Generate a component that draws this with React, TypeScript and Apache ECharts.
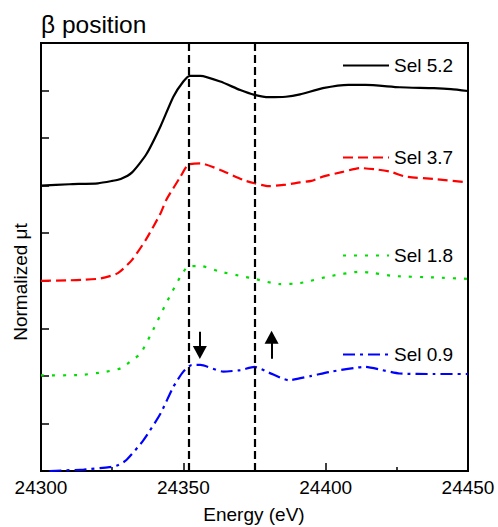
import React, { useEffect, useRef } from "react";
import * as echarts from "echarts";

const FONT = '"Liberation Sans", Arial, sans-serif';

const seriesNames = ["Sel 5.2", "Sel 3.7", "Sel 1.8", "Sel 0.9"];
const seriesColors = ["#000000", "#ff0000", "#00dd00", "#0000ff"];

const energy52 = [24300, 24310, 24320, 24325, 24328, 24332, 24337, 24342, 24346.5, 24350, 24352.3, 24356, 24363, 24370, 24375, 24380, 24386, 24391, 24399, 24408, 24414, 24426, 24438, 24444, 24450];
const value52 = [6.0, 6.03, 6.05, 6.1, 6.14, 6.28, 6.66, 7.25, 7.87, 8.19, 8.31, 8.31, 8.19, 8.01, 7.91, 7.86, 7.87, 7.92, 8.05, 8.12, 8.12, 8.07, 8.05, 8.03, 7.99];

const energy37 = [24300, 24310, 24315, 24321, 24327, 24332, 24337, 24342, 24344, 24349, 24351.7, 24356, 24363, 24371, 24375, 24380, 24386, 24391, 24395, 24399, 24406, 24412, 24418, 24423, 24428, 24438, 24450];
const value37 = [4.0, 4.01, 4.02, 4.05, 4.16, 4.44, 4.88, 5.42, 5.7, 6.19, 6.44, 6.47, 6.33, 6.12, 6.05, 5.99, 6.02, 6.07, 6.1, 6.19, 6.29, 6.37, 6.34, 6.29, 6.19, 6.14, 6.07];

const energy18 = [24300, 24314, 24322, 24328, 24332, 24335, 24339.4, 24344, 24349, 24351.7, 24356, 24363, 24371, 24375, 24384, 24391, 24401, 24412, 24417, 24424, 24438, 24450];
const value18 = [2.01, 2.02, 2.08, 2.16, 2.33, 2.47, 2.97, 3.53, 4.09, 4.3, 4.31, 4.19, 4.09, 4.04, 3.93, 3.95, 4.09, 4.19, 4.16, 4.1, 4.07, 4.04];

const energy09 = [24303, 24307, 24315, 24324, 24327, 24330, 24336, 24342, 24346.5, 24350, 24353, 24356, 24364, 24370, 24375, 24380, 24387, 24395, 24402, 24414, 24420, 24426, 24438, 24450];
const value09 = [0.0, 0.01, 0.03, 0.08, 0.12, 0.23, 0.65, 1.21, 1.77, 2.09, 2.23, 2.23, 2.09, 2.12, 2.19, 2.07, 1.91, 2.0, 2.09, 2.19, 2.12, 2.05, 2.04, 2.04];

const xTicks = { min: 24300, max: 24450, interval: 50 };
const yTicks = { min: 0, max: 9, interval: 1 };

const refLines = [24352, 24375];
// arrows: [energy, from, to]
const arrows = [
  [24355.8, 2.93, 2.49],
  [24381, 2.36, 2.81],
];

const legendY = [63, 155, 253, 352];

const energies = [energy52, energy37, energy18, energy09];
const values = [value52, value37, value18, value09];
const dashes: any[] = ["solid", [10, 5], [3, 8], [12, 5, 3, 5]];

export default function App() {
  const ref = useRef<HTMLDivElement>(null);
  useEffect(() => {
    document.body.style.margin = "0";
    const chart = echarts.init(ref.current!, null, { renderer: "svg" });
    const series: any[] = seriesNames.map((name, i) => ({
      name,
      type: "line",
      symbol: "none",
      smooth: 0.2,
      data: energies[i].map((e, j) => [e, values[i][j]]),
      lineStyle: { color: seriesColors[i], width: 2.2, type: dashes[i] },
      itemStyle: { color: seriesColors[i] },
      z: 3,
    }));
    series.push({
      name: "refs",
      type: "line",
      data: [],
      silent: true,
      markLine: {
        silent: true,
        symbol: "none",
        label: { show: false },
        lineStyle: { color: "#000", width: 2.2, type: [8, 4] },
        data: refLines.map((x) => ({ xAxis: x })),
      },
    });
    series.push({
      name: "arrows",
      type: "line",
      data: [],
      silent: true,
      markLine: {
        silent: true,
        symbol: ["none", "triangle"],
        symbolSize: [14, 13],
        label: { show: false },
        lineStyle: { color: "#000", width: 2, type: "solid" },
        itemStyle: { color: "#000" },
        data: arrows.map((a) => [
          { coord: [a[0], a[1]] },
          { coord: [a[0], a[2]] },
        ]),
      },
    });
    chart.setOption({
      animation: false,
      textStyle: { fontFamily: FONT },
      grid: {
        left: 41,
        right: 30,
        top: 43,
        bottom: 56,
        show: true,
        borderColor: "#000",
        borderWidth: 2,
      },
      legend: seriesNames.map((name, i) => ({
        data: [name],
        left: 342,
        top: legendY[i] - 7,
        itemWidth: 46,
        itemHeight: 14,
        padding: 0,
        selectedMode: false,
        itemStyle: { opacity: 0 },
        textStyle: { fontSize: 19, color: "#000", fontFamily: FONT },
      })),
      xAxis: {
        type: "value",
        min: xTicks.min,
        max: xTicks.max,
        interval: xTicks.interval,
        axisLine: { lineStyle: { color: "#000", width: 2 } },
        axisTick: { inside: true, length: 8, lineStyle: { color: "#000", width: 1.5 } },
        minorTick: { show: true, splitNumber: 2, length: 4, lineStyle: { color: "#000", width: 1.5 } },
        splitLine: { show: false },
        axisLabel: {
          fontSize: 19,
          color: "#000",
          margin: 7,
          fontFamily: FONT,
          formatter: (v: number) => String(v),
        },
      },
      yAxis: {
        type: "value",
        min: yTicks.min,
        max: yTicks.max,
        interval: yTicks.interval,
        axisLine: { lineStyle: { color: "#000", width: 2 } },
        axisTick: { inside: true, length: 8, lineStyle: { color: "#000", width: 1.5 } },
        splitLine: { show: false },
        axisLabel: { show: false },
      },
      graphic: [
        {
          type: "text",
          x: 41,
          y: 24,
          style: {
            text: "β position",
            fontSize: 24.5,
            fill: "#000",
            fontFamily: FONT,
            verticalAlign: "middle",
          },
        },
        {
          type: "text",
          x: 20,
          y: 282,
          rotation: Math.PI / 2,
          style: {
            text: "Normalized μt",
            fontSize: 19,
            fill: "#000",
            fontFamily: FONT,
            align: "center",
            verticalAlign: "middle",
          },
        },
        {
          type: "text",
          x: 254,
          y: 514,
          style: {
            text: "Energy (eV)",
            fontSize: 19,
            fill: "#000",
            fontFamily: FONT,
            align: "center",
            verticalAlign: "middle",
          },
        },
      ],
      series,
    });
    return () => chart.dispose();
  }, []);
  return (
    <div
      ref={ref}
      style={{ position: "absolute", left: 0, top: 0, width: 498, height: 527, background: "#fff" }}
    />
  );
}
